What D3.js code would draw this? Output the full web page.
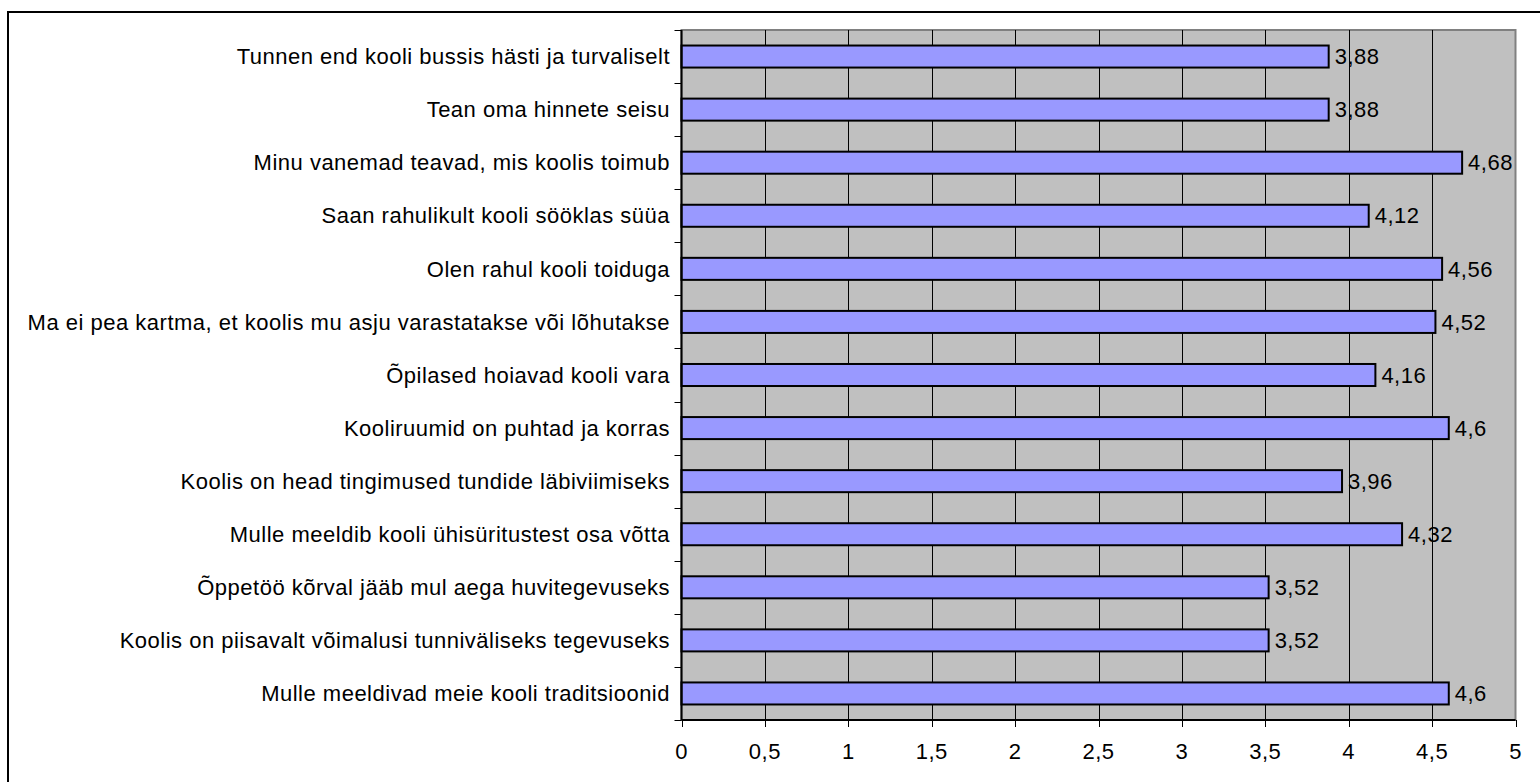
<!DOCTYPE html>
<html><head><meta charset="utf-8">
<script src="https://cdn.jsdelivr.net/npm/d3@7"></script>
<style>body{margin:0;background:#fff;}svg{display:block;}</style>
</head><body>
<script>
const categories = [
  "Tunnen end kooli bussis hästi ja turvaliselt",
  "Tean oma hinnete seisu",
  "Minu vanemad teavad, mis koolis toimub",
  "Saan rahulikult kooli sööklas süüa",
  "Olen rahul kooli toiduga",
  "Ma ei pea kartma, et koolis mu asju varastatakse või lõhutakse",
  "Õpilased hoiavad kooli vara",
  "Kooliruumid on puhtad ja korras",
  "Koolis on head tingimused tundide läbiviimiseks",
  "Mulle meeldib kooli ühisüritustest osa võtta",
  "Õppetöö kõrval jääb mul aega huvitegevuseks",
  "Koolis on piisavalt võimalusi tunniväliseks tegevuseks",
  "Mulle meeldivad meie kooli traditsioonid"
];
const values = [3.88, 3.88, 4.68, 4.12, 4.56, 4.52, 4.16, 4.6, 3.96, 4.32, 3.52, 3.52, 4.6];
const valueLabels = ["3,88","3,88","4,68","4,12","4,56","4,52","4,16","4,6","3,96","4,32","3,52","3,52","4,6"];
const xTicks = [0,0.5,1,1.5,2,2.5,3,3.5,4,4.5,5];
const xTickLabels = ["0","0,5","1","1,5","2","2,5","3","3,5","4","4,5","5"];

const W = 1540, H = 782;
const L = 681.5, R = 1515.5, T = 30, B = 720;
const FS = 22, LS = "0.5px";
const svg = d3.select("body").append("svg").attr("width", W).attr("height", H)
  .style("font-family", "'Liberation Sans', Arial, sans-serif");

// outer border (only left/top visible)
svg.append("rect").attr("x", 8).attr("y", 12).attr("width", 1600).attr("height", 800)
  .attr("fill", "#fff").attr("stroke", "#000").attr("stroke-width", 2);

const x = d3.scaleLinear().domain([0,5]).range([L, R]);
const y = d3.scaleBand().domain(categories).range([T, B]).paddingInner(0.585).paddingOuter(0.2925);
const yb = d3.scaleBand().domain(categories).range([T, B]);

// plot background
svg.append("rect").attr("x", L).attr("y", T).attr("width", R-L).attr("height", B-T)
  .attr("fill", "#c0c0c0").attr("stroke", "#808080").attr("stroke-width", 2);

// gridlines
svg.append("g").selectAll("line").data(xTicks.slice(1, -1)).join("line")
  .attr("x1", d => Math.round(x(d)) + 0.5).attr("x2", d => Math.round(x(d)) + 0.5)
  .attr("y1", T).attr("y2", B).attr("stroke", "#000").attr("stroke-width", 1);

// bars
svg.append("g").selectAll("rect").data(values).join("rect")
  .attr("x", L).attr("y", (d,i) => y(categories[i]))
  .attr("width", d => x(d) - L).attr("height", y.bandwidth())
  .attr("fill", "#9999ff").attr("stroke", "#000").attr("stroke-width", 2);

// value labels
svg.append("g").selectAll("text").data(values).join("text")
  .attr("x", d => x(d) + 6).attr("y", (d,i) => y(categories[i]) + y.bandwidth()/2)
  .attr("dy", "0.35em").attr("font-size", FS).attr("letter-spacing", LS).attr("fill", "#000")
  .text((d,i) => valueLabels[i]);

// left axis
svg.append("line").attr("x1", L).attr("x2", L).attr("y1", T).attr("y2", B)
  .attr("stroke", "#000").attr("stroke-width", 2);
const bounds = categories.map(c => yb(c)).concat([B]);
svg.append("g").selectAll("line").data(bounds).join("line")
  .attr("x1", L - 7).attr("x2", L).attr("y1", d => Math.round(d)+0.5).attr("y2", d => Math.round(d)+0.5)
  .attr("stroke", "#000").attr("stroke-width", 1);
svg.append("g").selectAll("text").data(categories).join("text")
  .attr("x", 670).attr("y", d => yb(d) + yb.bandwidth()/2).attr("dy", "0.35em")
  .attr("text-anchor", "end").attr("font-size", FS).attr("letter-spacing", LS).attr("fill", "#000").text(d => d);

// bottom axis
svg.append("line").attr("x1", L).attr("x2", R).attr("y1", B).attr("y2", B)
  .attr("stroke", "#000").attr("stroke-width", 2);
svg.append("g").selectAll("line").data(xTicks).join("line")
  .attr("x1", d => Math.round(x(d))+0.5).attr("x2", d => Math.round(x(d))+0.5)
  .attr("y1", B).attr("y2", B + 7).attr("stroke", "#000").attr("stroke-width", 1);
svg.append("g").selectAll("text").data(xTicks).join("text")
  .attr("x", d => x(d)).attr("y", 751).attr("dy", "0.35em").attr("text-anchor", "middle")
  .attr("font-size", FS).attr("letter-spacing", LS).attr("fill", "#000").text((d,i) => xTickLabels[i]);
</script>
</body></html>
